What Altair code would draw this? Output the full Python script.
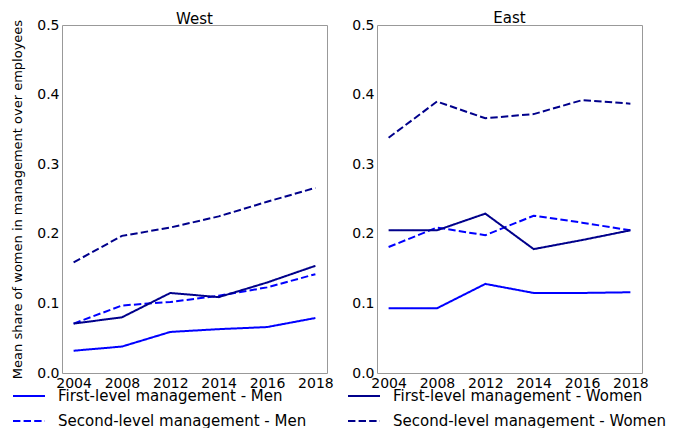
import altair as alt
import pandas as pd

years = ["2004", "2008", "2012", "2014", "2016", "2018"]
series_names = [
    "First-level management - Men",
    "Second-level management - Men",
    "First-level management - Women",
    "Second-level management - Women",
]
west_first_men = [0.032, 0.038, 0.059, 0.063, 0.066, 0.079]
west_first_women = [0.071, 0.080, 0.115, 0.109, 0.130, 0.154]
west_second_men = [0.071, 0.097, 0.102, 0.111, 0.123, 0.142]
west_second_women = [0.159, 0.197, 0.209, 0.225, 0.246, 0.266]
east_first_men = [0.093, 0.093, 0.128, 0.115, 0.115, 0.116]
east_first_women = [0.205, 0.205, 0.229, 0.178, 0.191, 0.205]
east_second_men = [0.181, 0.209, 0.198, 0.226, 0.216, 0.205]
east_second_women = [0.338, 0.390, 0.366, 0.372, 0.392, 0.387]

colors = ["#0000ff", "#0000ff", "#00008b", "#00008b"]
dashes = [[1, 0], [7.4, 3.2], [1, 0], [7.4, 3.2]]


def make_df(lists):
    rows = []
    for name, vals in zip(series_names, lists):
        for y, v in zip(years, vals):
            rows.append({"year": y, "value": v, "series": name})
    return pd.DataFrame(rows)


west = make_df([west_first_men, west_second_men, west_first_women, west_second_women])
east = make_df([east_first_men, east_second_men, east_first_women, east_second_women])

FONT = "DejaVu Sans"

legend = alt.Legend(
    title=None,
    orient="none",
    legendX=-50,
    legendY=354,
    columns=2,
    symbolType="stroke",
    symbolSize=1024,
    symbolStrokeWidth=2,
    labelFontSize=15,
    labelFont=FONT,
    labelColor="black",
    labelLimit=400,
    labelOffset=12,
    columnPadding=37,
    rowPadding=-12,
)


def panel(df, title, show_title, title_offset):
    return (
        alt.Chart(df)
        .mark_line(strokeWidth=2)
        .encode(
            x=alt.X(
                "year:O",
                sort=years,
                title=None,
                scale=alt.Scale(type="point", padding=0.24),
                axis=alt.Axis(labelAngle=0),
            ),
            y=alt.Y(
                "value:Q",
                scale=alt.Scale(domain=[0, 0.5], nice=False),
                title="Mean share of women in management over employees" if show_title else None,
                axis=alt.Axis(values=[0, 0.1, 0.2, 0.3, 0.4, 0.5], format=".1f"),
            ),
            color=alt.Color(
                "series:N",
                sort=series_names,
                scale=alt.Scale(domain=series_names, range=colors),
                legend=legend,
            ),
            strokeDash=alt.StrokeDash(
                "series:N",
                sort=series_names,
                scale=alt.Scale(domain=series_names, range=dashes),
                legend=legend,
            ),
        )
        .properties(
            width=265,
            height=348,
            title=alt.TitleParams(title, fontSize=15, fontWeight="normal", font=FONT,
                                  offset=title_offset, color="black", frame="group"),
        )
    )


chart = (
    alt.hconcat(panel(west, "West", True, -9), panel(east, "East", False, -8), spacing=17)
    .properties(padding={"left": 3, "top": 2, "right": 0, "bottom": 0})
    .configure_view(stroke="#999999", strokeWidth=1)
    .configure_axis(
        domain=False,
        ticks=False,
        grid=False,
        labelFont=FONT,
        labelFontSize=14,
        labelColor="black",
        labelPadding=3,
        titleFont=FONT,
        titleFontSize=13,
        titleFontWeight="normal",
        titleColor="black",
        titlePadding=12,
    )
)

chart.save("out.html", embed_options={"renderer": "svg", "actions": False})
